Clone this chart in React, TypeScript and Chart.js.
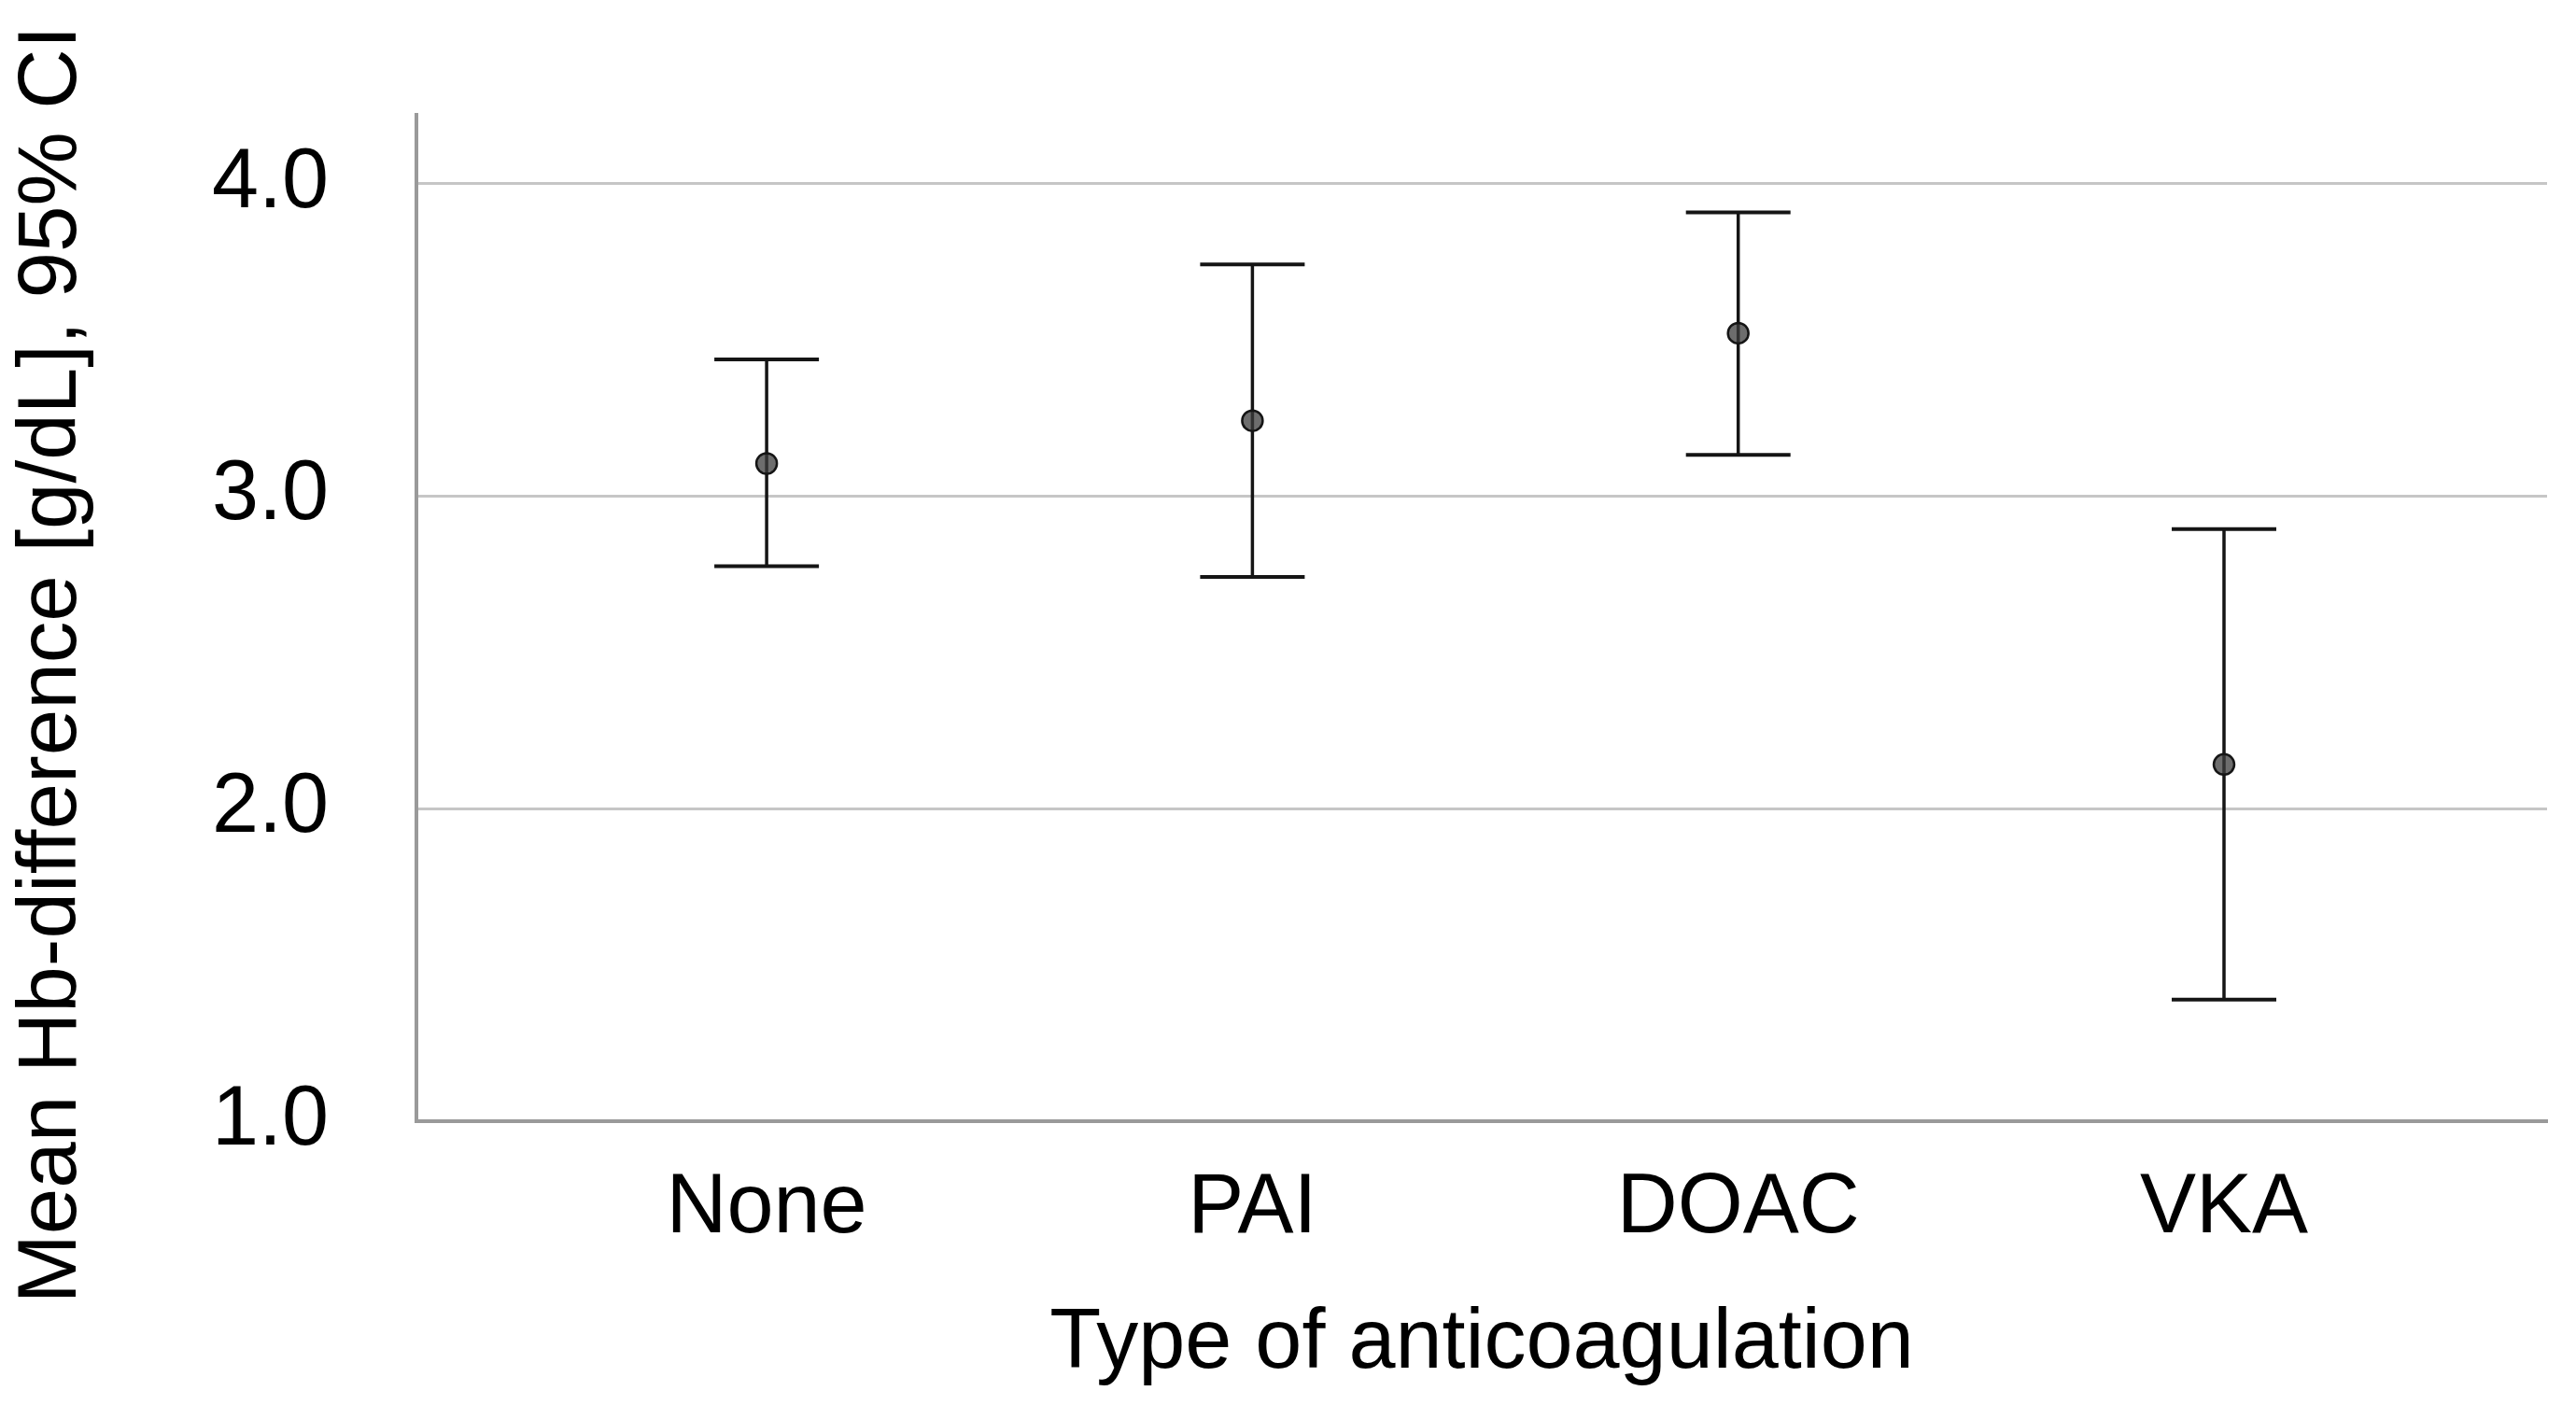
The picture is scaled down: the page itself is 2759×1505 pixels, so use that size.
import React, { useEffect, useRef } from "react";
import { Chart, registerables } from "chart.js";

Chart.register(...registerables);

// ---- data ----
const categories = ["None", "PAI", "DOAC", "VKA"];
const means = [3.105, 3.242, 3.522, 2.142];
const lowerCI = [2.776, 2.742, 3.133, 1.389];
const upperCI = [3.438, 3.742, 3.909, 2.895];
const yTicks = [1, 2, 3, 4];
const yTitle = "Mean Hb-difference [g/dL], 95% CI";
const xTitle = "Type of anticoagulation";

const FONT = "'Liberation Sans', Arial, sans-serif";

const errorBarPlugin = {
  id: "errorBars",
  beforeDatasetsDraw(chart: any) {
    const { ctx, scales } = chart;
    const xs = scales.x;
    const ys = scales.y;
    const capHalf = 56;
    ctx.save();
    ctx.strokeStyle = "#151515";
    ctx.lineCap = "butt";
    for (let i = 0; i < categories.length; i++) {
      const px = xs.getPixelForValue(i);
      const pLo = ys.getPixelForValue(lowerCI[i]);
      const pHi = ys.getPixelForValue(upperCI[i]);
      ctx.lineWidth = 3.5;
      ctx.beginPath();
      ctx.moveTo(px, pLo);
      ctx.lineTo(px, pHi);
      ctx.stroke();
      ctx.lineWidth = 4;
      ctx.beginPath();
      ctx.moveTo(px - capHalf, pHi);
      ctx.lineTo(px + capHalf, pHi);
      ctx.moveTo(px - capHalf, pLo);
      ctx.lineTo(px + capHalf, pLo);
      ctx.stroke();
    }
    ctx.restore();
  },
};

const yTitlePlugin = {
  id: "yTitleText",
  afterDraw(chart: any) {
    const { ctx } = chart;
    ctx.save();
    ctx.translate(56, 712);
    ctx.rotate(-Math.PI / 2);
    ctx.fillStyle = "#000";
    ctx.font = `89px ${FONT}`;
    ctx.textAlign = "center";
    ctx.textBaseline = "middle";
    ctx.fillText(yTitle, 0, 0);
    ctx.restore();
  },
};

export default function App() {
  const ref = useRef<HTMLCanvasElement | null>(null);

  useEffect(() => {
    if (!ref.current) return;
    const chart = new Chart(ref.current, {
      type: "scatter",
      data: {
        datasets: [
          {
            data: means.map((m, i) => ({ x: i, y: m })),
            pointRadius: 11,
            pointBorderWidth: 2.5,
            pointBackgroundColor: "rgba(60,60,60,0.75)",
            pointBorderColor: "#151515",
            pointHoverRadius: 11,
          },
        ],
      },
      options: {
        responsive: false,
        animation: false,
        devicePixelRatio: 1,
        layout: { padding: { top: 123, right: 31, bottom: 20, left: 133 } },
        plugins: {
          legend: { display: false },
          tooltip: { enabled: false },
        },
        scales: {
          x: {
            type: "linear",
            min: -0.7207,
            max: 3.665,
            afterBuildTicks: (scale: any) => {
              scale.ticks = categories.map((_, i) => ({ value: i }));
            },
            grid: { display: false, drawTicks: false },
            border: { display: true, color: "#9a9a9a", width: 4 },
            ticks: {
              padding: 40,
              color: "#000",
              font: { family: FONT, size: 90, lineHeight: 1.2 },
              callback: (v: any) => categories[Math.round(Number(v))] ?? "",
              maxRotation: 0,
              autoSkip: false,
            },
            title: {
              display: true,
              text: xTitle,
              color: "#000",
              font: { family: FONT, size: 90, lineHeight: 1 },
              padding: { top: 6, bottom: 0 },
            },
          },
          y: {
            type: "linear",
            min: 1,
            max: 4.221,
            afterBuildTicks: (scale: any) => {
              scale.ticks = yTicks.map((v) => ({ value: v }));
            },
            grid: { color: "#c6c6c6", lineWidth: 3, drawTicks: false },
            border: { display: true, color: "#9a9a9a", width: 4 },
            ticks: {
              padding: 94,
              color: "#000",
              font: { family: FONT, size: 90, lineHeight: 0.3 },
              callback: (v: any) => Number(v).toFixed(1),
            },
          },
        },
      },
      plugins: [errorBarPlugin, yTitlePlugin],
    } as any);
    return () => chart.destroy();
  }, []);

  return (
    <div
      style={{
        position: "fixed",
        left: 0,
        top: 0,
        width: "2759px",
        height: "1505px",
        background: "#fff",
      }}
    >
      <canvas
        ref={ref}
        width={2759}
        height={1505}
        style={{ display: "block", width: "2759px", height: "1505px" }}
      />
    </div>
  );
}
